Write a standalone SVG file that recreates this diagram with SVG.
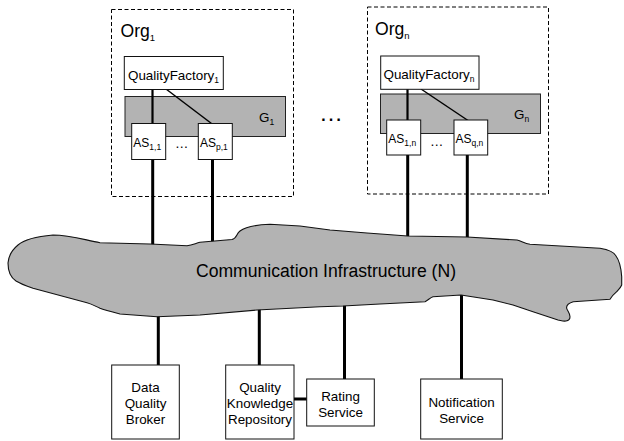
<svg xmlns="http://www.w3.org/2000/svg" width="624" height="441" viewBox="0 0 624 441">
  <style>
    text { font-family: "Liberation Sans", Arial, sans-serif; fill: #000; }
    .org { fill: none; stroke: #000; stroke-width: 1; stroke-dasharray: 4 2.5; }
    .grp { fill: #b3b3b3; stroke: #222; stroke-width: 1; }
    .box { fill: #fff; stroke: #111; stroke-width: 1; }
    .cloud { fill: #b3b3b3; stroke: #111; stroke-width: 1.1; stroke-linejoin: round; }
    .big { font-size: 17.6px; }
    .mid { font-size: 13.4px; }
    .as { font-size: 12px; }
    .sub { font-size: 8.5px; }
    .subq { font-size: 9.5px; }
    .c { text-anchor: middle; }
    .link { stroke: #000; fill: none; }
    .thick { stroke-width: 3; }
    .med { stroke-width: 2.2; }
    .thin { stroke-width: 1.5; }
  </style>

  <!-- organisation containers -->
  <g id="org1">
    <rect class="org" x="111.5" y="9.5" width="182" height="187"/>
    <text class="big" x="120.5" y="36.5">Org<tspan class="subq" dy="4">1</tspan></text>
  </g>
  <g id="orgn">
    <rect class="org" x="367.5" y="7" width="181" height="187"/>
    <text class="big" x="375" y="34.5">Org<tspan class="subq" dy="4">n</tspan></text>
  </g>

  <!-- group bars -->
  <g id="g1">
    <rect class="grp" x="125" y="96.5" width="160.5" height="40"/>
    <text class="mid" x="259" y="121.5">G<tspan class="sub" dy="3">1</tspan></text>
  </g>
  <g id="gn">
    <rect class="grp" x="380.5" y="94" width="160" height="39.5"/>
    <text class="mid" x="514" y="119">G<tspan class="sub" dy="3">n</tspan></text>
  </g>

  <!-- connectors -->
  <g id="connectors">
    <line class="link med" x1="152.5" y1="89" x2="152.5" y2="123.5"/>
    <line class="link thin" x1="166" y1="89" x2="211.5" y2="123.5"/>
    <line class="link thick" x1="152.7" y1="159" x2="152.7" y2="245"/>
    <line class="link thick" x1="212.5" y1="159" x2="212.5" y2="243"/>

    <line class="link med" x1="407.5" y1="89" x2="407.5" y2="120.5"/>
    <line class="link thin" x1="421" y1="89" x2="468" y2="120.5"/>
    <line class="link thick" x1="407.7" y1="155" x2="407.7" y2="237"/>
    <line class="link thick" x1="467.3" y1="155" x2="467.3" y2="238"/>

    <line class="link thick" x1="158.3" y1="315" x2="158.3" y2="365"/>
    <line class="link thick" x1="259.3" y1="309" x2="259.3" y2="365"/>
    <line class="link thick" x1="344.5" y1="305.5" x2="344.5" y2="379"/>
    <line class="link thick" x1="461.5" y1="294.5" x2="461.5" y2="379"/>
    <line class="link thick" x1="294" y1="399" x2="307" y2="399"/>
  </g>

  <!-- quality factories -->
  <g id="qf1">
    <rect class="box" x="124.3" y="56.5" width="99" height="33"/>
    <text class="mid" x="128" y="79.5">QualityFactory<tspan class="sub" dy="3">1</tspan></text>
  </g>
  <g id="qfn">
    <rect class="box" x="380.7" y="56" width="98.3" height="33.3"/>
    <text class="mid" x="383.5" y="79">QualityFactory<tspan class="sub" dy="3">n</tspan></text>
  </g>

  <!-- application services -->
  <g id="as11">
    <rect class="box" x="131.7" y="123.5" width="34" height="36"/>
    <text class="as" x="133.3" y="146.5">AS<tspan class="sub" dy="3">1,1</tspan></text>
  </g>
  <g id="asp1">
    <rect class="box" x="198.3" y="123.5" width="34" height="36"/>
    <text class="as" x="200" y="146.5">AS<tspan class="sub" dy="3">p,1</tspan></text>
  </g>
  <text class="mid" x="175" y="148">…</text>

  <g id="as1n">
    <rect class="box" x="386.7" y="120" width="34" height="35"/>
    <text class="as" x="388.3" y="142.5">AS<tspan class="sub" dy="3">1,n</tspan></text>
  </g>
  <g id="asqn">
    <rect class="box" x="454" y="120" width="33.7" height="35"/>
    <text class="as" x="455.5" y="142.5">AS<tspan class="sub" dy="3">q,n</tspan></text>
  </g>
  <text class="mid" x="430" y="145.5">…</text>

  <!-- further organisations -->
  <text x="331" y="121" font-size="24" class="c">…</text>

  <!-- communication infrastructure -->
  <g id="network">
    <path class="cloud" d="M 8,263
      C 8.5,256 12,250 18,245 C 25,239 36,236.5 53,235
      C 70,235 85,240 100,242.7 L 150,244 L 187,245.7
      C 193,245 196,243 200,242.3 L 232,239.5
      C 237,238.5 236,234 240,231 C 244,228 252,225 270,224.3
      L 300,226 L 330,230 L 367,233 L 407.7,236 L 467,237 L 517,240
      C 522,241 524,243.5 530,244.3 L 600,248.3
      C 610,250 614,252 616,256 C 619,260 621,266 621.7,276.7
      L 621.7,285 C 620.5,288 618,290 616.7,291.7
      C 614,294 612,296 610,299.3 L 573.3,301.7
      C 569,303 566,305 566.7,308.3 C 567.5,311 570,313 570,316.7
      C 570,319 569.5,320.5 566,321 C 563,321.5 561,320.5 558,320
      L 533,311.7 L 513,305 L 493,300 L 461,295 L 433,296.7
      C 430,297.5 428,300.5 425,301.7 L 380,304 L 343,306 L 320,306.7
      L 257,310 L 200,315 L 157,316.7 L 120,314
      C 112,312 104,310 100,308.3 C 95,306 92,304 87,302.7
      L 33,288.3 C 25,285.5 20,283.5 16,281 C 10,277 8,272 8,263 Z"/>
    <text class="big c" x="326" y="276.5">Communication Infrastructure (N)</text>
  </g>

  <!-- services -->
  <g id="dqb">
    <rect class="box" x="111.7" y="365" width="67.6" height="74"/>
    <text class="mid c" x="145.5" y="391.5">Data</text>
    <text class="mid c" x="145.5" y="407.5">Quality</text>
    <text class="mid c" x="145.5" y="423.5">Broker</text>
  </g>
  <g id="qkr">
    <rect class="box" x="225.7" y="365" width="68.3" height="74"/>
    <text class="mid c" x="260" y="391.5">Quality</text>
    <text class="mid c" x="260" y="407.5">Knowledge</text>
    <text class="mid c" x="260" y="423.5">Repository</text>
  </g>
  <g id="rating">
    <rect class="box" x="306.7" y="379" width="67.6" height="47"/>
    <text class="mid c" x="340.5" y="400.5">Rating</text>
    <text class="mid c" x="340.5" y="416.5">Service</text>
  </g>
  <g id="notification">
    <rect class="box" x="420.7" y="379" width="81.6" height="60"/>
    <text class="mid c" x="461.5" y="406.5">Notification</text>
    <text class="mid c" x="461.5" y="422.5">Service</text>
  </g>
</svg>
